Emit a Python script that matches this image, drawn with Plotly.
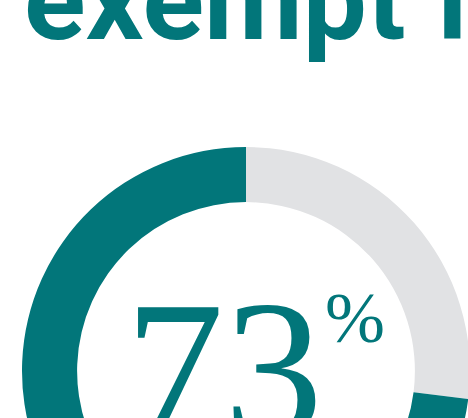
import plotly.graph_objects as go

# Data
labels = ["Not exempt", "Exempt"]
values = [27, 73]
colors = ["#e1e2e4", "#02767a"]
title_text = "exempt from"
pct_value = values[1]

W, H = 500, 700

def px(x):
    return x / W

def py(y):
    return 1 - y / H

fig = go.Figure()
fig.add_trace(go.Pie(
    labels=labels,
    values=values,
    hole=0.754,
    sort=False,
    direction="clockwise",
    rotation=0,
    marker=dict(colors=colors, line=dict(width=0)),
    textinfo="none",
    hoverinfo="label+percent",
    showlegend=False,
    domain=dict(x=[px(22), px(470)], y=[py(595), py(147)]),
))

teal = colors[1]
fig.add_annotation(
    text=f"<b>{title_text}</b>", x=px(22), y=py(69), xref="paper", yref="paper",
    xanchor="left", yanchor="bottom", showarrow=False,
    font=dict(family="Roboto", size=114, color=teal),
)
fig.add_annotation(
    text=f"{pct_value}", x=px(224), y=py(258), xref="paper", yref="paper",
    xanchor="center", yanchor="top", showarrow=False,
    font=dict(family="Liberation Serif", size=198, color=teal),
)
fig.add_annotation(
    text="%", x=px(323), y=py(276), xref="paper", yref="paper",
    xanchor="left", yanchor="top", showarrow=False,
    font=dict(family="Liberation Serif", size=72, color=teal),
)

fig.update_layout(
    width=W, height=H,
    margin=dict(l=0, r=0, t=0, b=0),
    paper_bgcolor="white",
    plot_bgcolor="white",
)

fig.write_html(
    "out.html",
    config=dict(displayModeBar=False),
    post_script="document.body.style.margin='0';document.body.style.overflow='hidden';document.documentElement.style.overflow='hidden';",
)
